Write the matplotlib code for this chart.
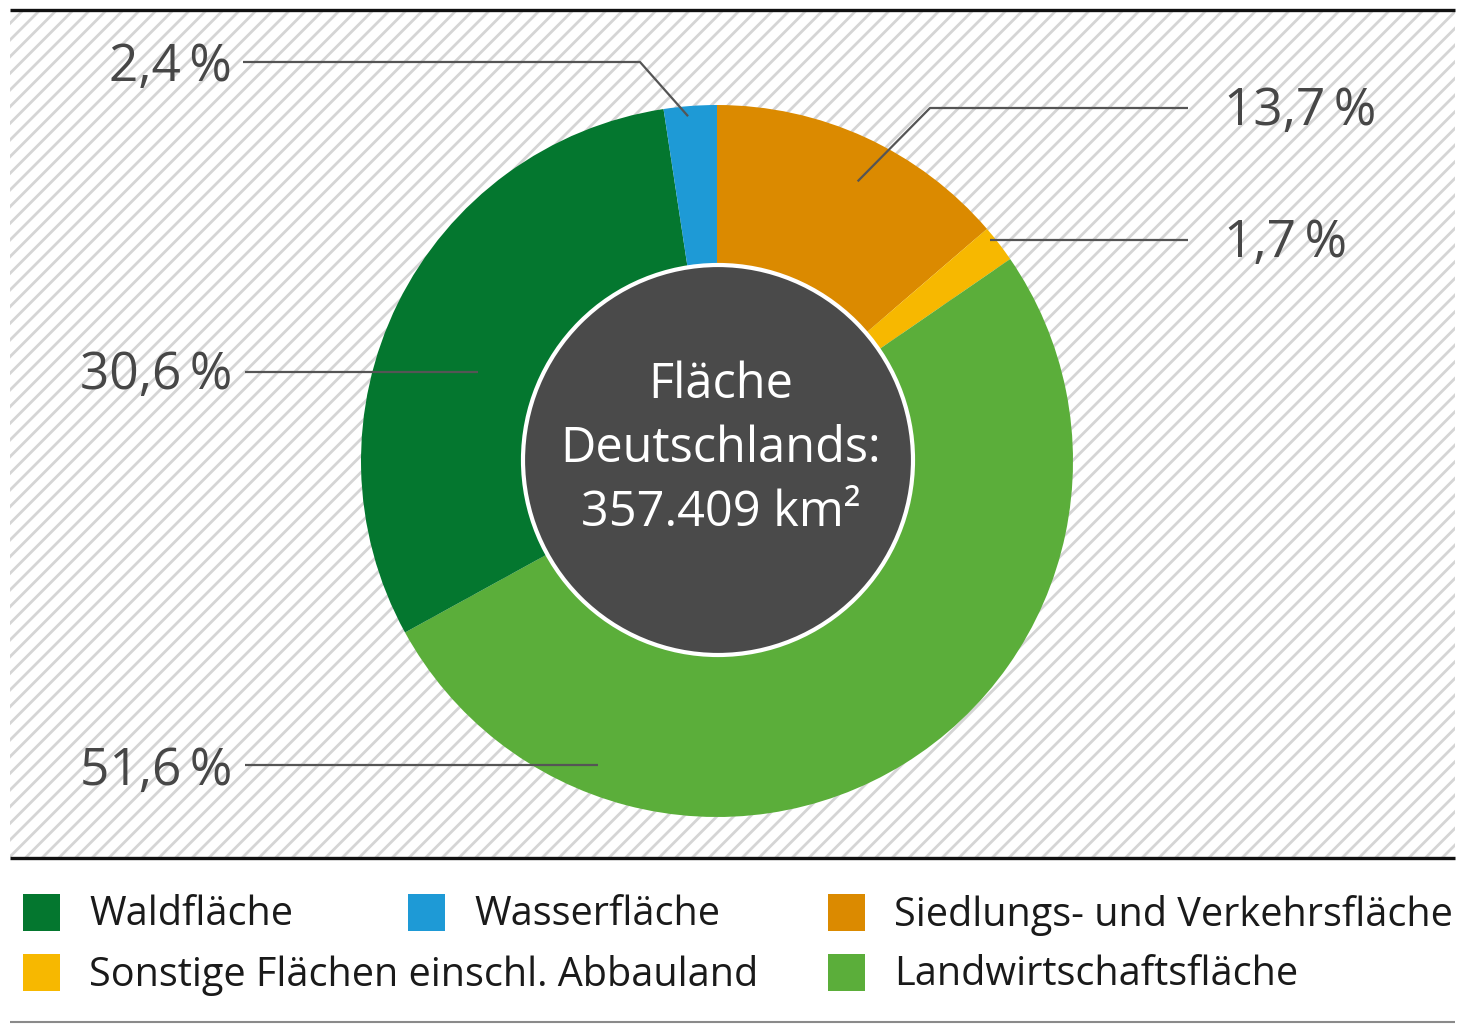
import numpy as np
import matplotlib
matplotlib.use('Agg')
import matplotlib.pyplot as plt
from matplotlib.patches import Rectangle, Circle

plt.rcParams['font.family'] = ['Open Sans', 'DejaVu Sans']
plt.rcParams['hatch.linewidth'] = 2.0

# data (share of area, clockwise from the top)
categories = ['Siedlungs- und Verkehrsfläche', 'Sonstige Flächen einschl. Abbauland',
              'Landwirtschaftsfläche', 'Waldfläche', 'Wasserfläche']
shares = [13.7, 1.7, 51.6, 30.6, 2.4]
colors = ['#db8a00', '#f7b800', '#5bae3a', '#04772f', '#1e9ad6']
center_lines = ['Fläche', 'Deutschlands:', '357.409 km²']

# legend order as in the figure
legend_order = ['Waldfläche', 'Wasserfläche', 'Siedlungs- und Verkehrsfläche',
                'Sonstige Flächen einschl. Abbauland', 'Landwirtschaftsfläche']

W, H = 1459, 1025
fig = plt.figure(figsize=(W / 100, H / 100), dpi=100)
ax = fig.add_axes([0, 0, 1, 1])

cx, cy, R = 717, 461, 356

# hatched background panel
ax.add_patch(Rectangle((10, 12), 1445, 845, facecolor='white', edgecolor='#d5d5d5',
                       hatch='//', lw=0, zorder=0))
ax.plot([10, 1455], [10, 10], color='#111111', lw=2.4, solid_capstyle='butt', zorder=1)
ax.plot([10, 1455], [858, 858], color='#111111', lw=2.4, solid_capstyle='butt', zorder=1)
ax.plot([10, 1455], [1022, 1022], color='#8a8a8a', lw=1.5, solid_capstyle='butt', zorder=1)

# y axis is flipped (pixel-like coords), so ccw in data = clockwise on screen
wedges, _ = ax.pie(shares, colors=colors, startangle=-90, counterclock=True,
                   center=(cx, cy), radius=R, frame=True,
                   wedgeprops=dict(linewidth=0))
for w in wedges:
    w.set_zorder(2)

ax.add_patch(Circle((cx + 1, cy - 1), 195, facecolor='#4a4a4a', edgecolor='white',
                    lw=3, zorder=3))
for line, yy in zip(center_lines, [385, 449, 513]):
    ax.text(cx + 4, yy, line, color='white', fontsize=35, ha='center', va='center', zorder=4)


def polar(ang, r):
    a = np.deg2rad(ang)
    return cx + r * np.sin(a), cy - r * np.cos(a)


def fmt(v):
    return f'{v:.1f}'.replace('.', ',') + '\u2009%'


# label layout: anchor angle/radius inside the wedge, elbow, line start, text pos
label_layout = {
    'Wasserfläche': dict(anchor=(355.2, 346), elbow=(640, 62), start=(243, 62),
                         text=(232, 67), ha='right'),
    'Siedlungs- und Verkehrsfläche': dict(anchor=(26.7, 313), elbow=(930, 108),
                                          start=(1188, 108), text=(1224, 111), ha='left'),
    'Sonstige Flächen einschl. Abbauland': dict(anchor=(50.9, 352), elbow=None,
                                                start=(1188, 240), text=(1224, 243), ha='left'),
    'Waldfläche': dict(anchor=(290.5, 255), elbow=None, start=(245, 372),
                       text=(232, 375), ha='right'),
    'Landwirtschaftsfläche': dict(anchor=(201.4, 326), elbow=None, start=(245, 765),
                                  text=(232, 771), ha='right'),
}

for cat, val in zip(categories, shares):
    lay = label_layout[cat]
    axp, ayp = polar(*lay['anchor'])
    xs = [lay['start'][0]]
    ys = [lay['start'][1]]
    if lay['elbow'] is not None:
        xs.append(lay['elbow'][0])
        ys.append(lay['elbow'][1])
        xs.append(axp)
        ys.append(ayp)
    else:
        xs.append(axp)
        ys.append(lay['start'][1])
    ax.plot(xs, ys, color='#555555', lw=1.6, zorder=5, solid_capstyle='butt')
    ax.text(lay['text'][0], lay['text'][1], fmt(val), fontsize=37, color='#474747',
            ha=lay['ha'], va='center', zorder=6)

# legend
leg_pos = {
    'Waldfläche': (23, 912),
    'Wasserfläche': (408, 912),
    'Siedlungs- und Verkehrsfläche': (828, 912),
    'Sonstige Flächen einschl. Abbauland': (23, 972),
    'Landwirtschaftsfläche': (828, 972),
}
for name in legend_order:
    col = colors[categories.index(name)]
    x0, y0 = leg_pos[name]
    ax.add_patch(Rectangle((x0, y0 - 18), 37, 37, facecolor=col, lw=0, zorder=2))
    ax.text(x0 + 66, y0 + 3, name, fontsize=28.5, color='#1a1a1a', ha='left', va='center')

ax.set_xlim(0, W)
ax.set_ylim(H, 0)
ax.set_aspect('auto')
ax.axis('off')

fig.savefig('out.png', dpi=100)
